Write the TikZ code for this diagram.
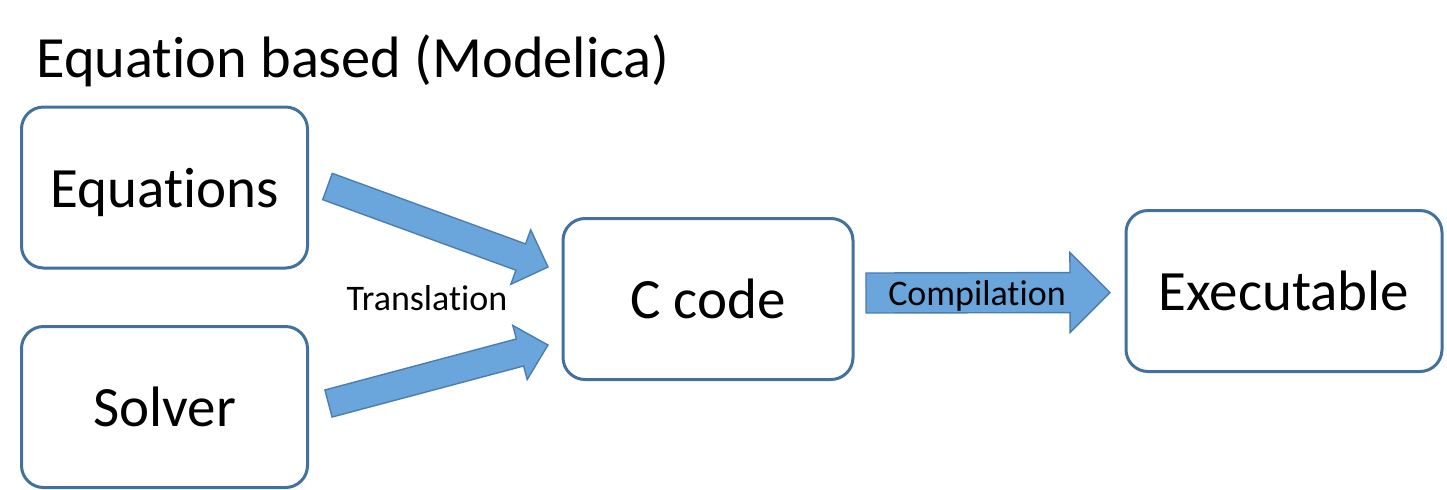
\documentclass[tikz,border=0pt]{standalone}
\usepackage{fontspec}
\setmainfont{Carlito}[Ligatures=NoCommon]
\usetikzlibrary{calc}
\definecolor{boxline}{HTML}{41719C}
\definecolor{arrowfill}{HTML}{6AA6DB}
\definecolor{arrowline}{HTML}{4A7EB0}
\tikzset{
  box/.style={draw=boxline, line width=1.5pt, fill=white, rounded corners=11pt,
    minimum width=143pt, minimum height=80.5pt, inner sep=0pt, text height=19.5pt, text depth=0pt,
    font=\fontsize{28.5}{32}\selectfont},
  fatarrow/.style={draw=arrowline, line width=0.7pt, fill=arrowfill, line join=miter},
  lbl/.style={inner sep=0pt, font=\fontsize{18}{21}\selectfont},
}
% #1 name, #2 tail, #3 tip, #4 half shaft, #5 half head, #6 head length
\newcommand\fatarrowdraw[6]{%
  \coordinate (#1h) at ($(#3)!#6!(#2)$);
  \draw[fatarrow] ($(#2)!#4!90:(#3)$) -- ($(#1h)!#4!90:(#3)$) -- ($(#1h)!#5!90:(#3)$)
    -- (#3) -- ($(#1h)!#5!-90:(#3)$) -- ($(#1h)!#4!-90:(#3)$) -- ($(#2)!#4!-90:(#3)$) -- cycle;
}
\begin{document}
\begin{tikzpicture}[x=0.5pt, y=-0.5pt]
\useasboundingbox (0,0) rectangle (1447,489);
\node[anchor=base west, inner sep=0pt, font=\fontsize{29.2}{33}\selectfont] (title) at (36,77) {Equation based (Modelica)};
\node[box, minimum width=143pt] (eq) at (164.5,187.5) {Equations};
\node[box, minimum width=143pt] (solver) at (164.5,407) {Solver};
\node[box, minimum width=145pt] (ccode) at (708,299) {C code};
\node[box, minimum width=158pt] (exe) at (1284,291) {Executable};
\coordinate (a1s) at (327.5,186.5);
\coordinate (a1e) at (548,267);
\coordinate (a2s) at (328.5,403.5);
\coordinate (a2e) at (548,345);
\coordinate (a3s) at (866,293);
\coordinate (a3e) at (1110,292.5);
\fatarrowdraw{a1}{a1s}{a1e}{7pt}{14.5pt}{14.5pt}
\fatarrowdraw{a2}{a2s}{a2e}{7pt}{14pt}{14.5pt}
\fatarrowdraw{a3}{a3s}{a3e}{10pt}{20pt}{20pt}
\node[lbl, anchor=base] (trans) at (427,310) {Translation};
\node[lbl, anchor=base] (comp) at (977,305) {Compilation};
\end{tikzpicture}
\end{document}
